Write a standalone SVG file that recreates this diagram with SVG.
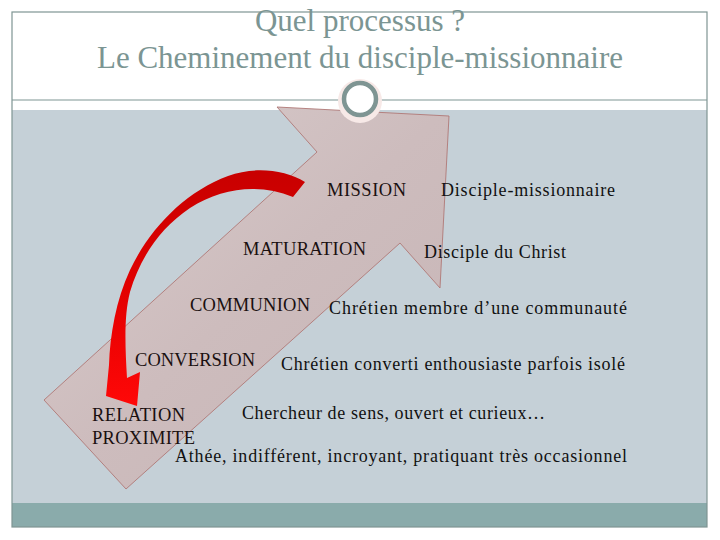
<svg xmlns="http://www.w3.org/2000/svg" width="720" height="540" viewBox="0 0 720 540">
<defs>
<style>
.title{font-family:"Liberation Serif","DejaVu Serif","Times New Roman",serif;font-size:31px;fill:#7b9593;text-anchor:middle}
.cap{font-family:"Liberation Serif","DejaVu Serif","Times New Roman",serif;font-size:18.5px;fill:#1a1010}
.desc{font-family:"Liberation Serif","DejaVu Serif","Times New Roman",serif;font-size:18px;fill:#111}
</style>
<linearGradient id="arrowFill" x1="0" y1="0" x2="1" y2="1">
<stop offset="0" stop-color="#d9cccc"/>
<stop offset="0.5" stop-color="#cdbcbd"/>
<stop offset="1" stop-color="#c7b5b6"/>
</linearGradient>
<linearGradient id="redFill" x1="0" y1="0" x2="0" y2="1">
<stop offset="0" stop-color="#c80000"/>
<stop offset="0.5" stop-color="#e20000"/>
<stop offset="1" stop-color="#ff0808"/>
</linearGradient>
</defs>
<rect x="0" y="0" width="720" height="540" fill="#ffffff"/>
<rect x="12" y="110" width="695" height="393" fill="#c5d0d7"/>
<rect x="12" y="503" width="695" height="24" fill="#8aabab"/>
<rect x="12" y="12" width="695" height="515" fill="none" stroke="#7f9593" stroke-width="1.2"/>
<line x1="12" y1="100" x2="707" y2="100" stroke="#7f9593" stroke-width="1.2"/>
<g id="title">
<text class="title" x="360" y="31" font-family="Liberation Serif, DejaVu Serif, serif">Quel processus ?</text>
<text class="title" x="360" y="68" font-family="Liberation Serif, DejaVu Serif, serif">Le Cheminement du disciple-missionnaire</text>
</g>
<g id="big-arrow">
<polygon points="44,400 317,152 277,107 449,116 440,288 400,243 126,489" fill="url(#arrowFill)" stroke="#b07876" stroke-width="0.9"/>
</g>
<g id="ornament">
<circle cx="360" cy="101" r="22" fill="#f7e9e7"/>
<circle cx="360" cy="99" r="16" fill="#ffffff" stroke="#7f9593" stroke-width="4.5"/>
</g>
<g id="connectors">
<path d="M305,182 C285,170 255,166 228,176 C185,192 150,228 130,270 C116,300 110,335 109,365 L106,396 L137,406 L140,372 L127,378 C125,345 124,315 130,292 C140,258 160,228 190,208 C222,188 258,183 293,197 Z" fill="url(#redFill)"/>
</g>
<g id="mission">
<text class="cap" x="327" y="196" textLength="79">MISSION</text>
<text class="desc" x="441" y="196" textLength="174">Disciple-missionnaire</text>
</g>
<g id="maturation">
<text class="cap" x="243" y="255" textLength="123">MATURATION</text>
<text class="desc" x="424" y="258" textLength="142">Disciple du Christ</text>
</g>
<g id="communion">
<text class="cap" x="190" y="311" textLength="120">COMMUNION</text>
<text class="desc" x="329" y="314" textLength="298">Chrétien membre d’une communauté</text>
</g>
<g id="conversion">
<text class="cap" x="135" y="366" textLength="120">CONVERSION</text>
<text class="desc" x="281" y="370" textLength="344">Chrétien converti enthousiaste parfois isolé</text>
</g>
<g id="relation">
<text class="cap" x="92" y="421" textLength="93">RELATION</text>
<text class="cap" x="92" y="444" textLength="103">PROXIMITE</text>
<text class="desc" x="242" y="419" textLength="303">Chercheur de sens, ouvert et curieux…</text>
</g>
<g id="athee">
<text class="desc" x="175" y="462" textLength="452">Athée, indifférent, incroyant, pratiquant très occasionnel</text>
</g>
</svg>
